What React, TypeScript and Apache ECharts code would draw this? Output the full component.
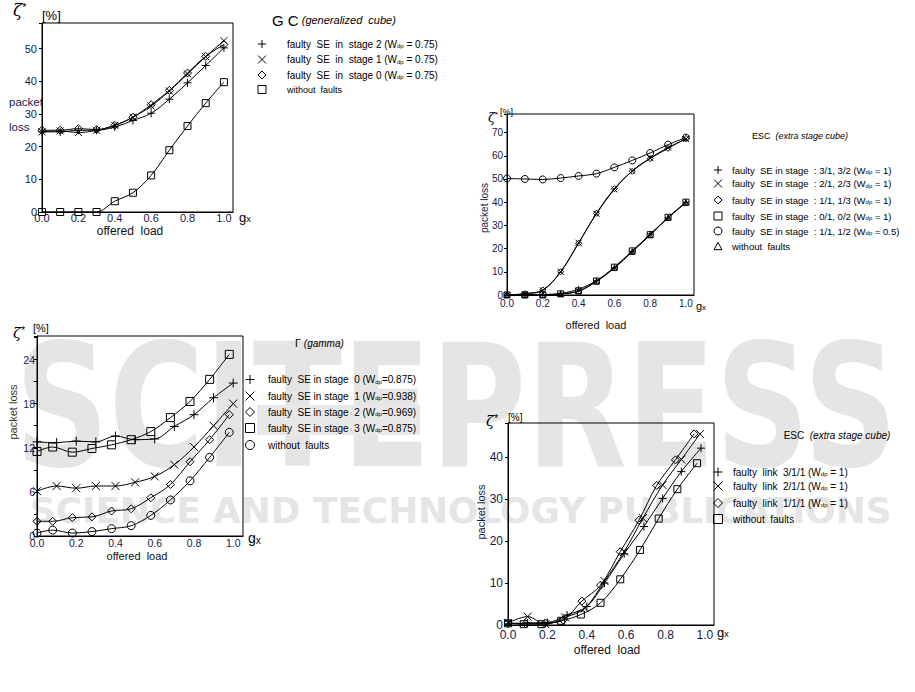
import React, { useEffect, useRef } from "react";
import * as echarts from "echarts";

// ---------- data ----------
const X10 = [0, 0.1, 0.2, 0.3, 0.4, 0.5, 0.6, 0.7, 0.8, 0.9, 1.0];
const loadTicks = [0, 0.2, 0.4, 0.6, 0.8, 1.0];

// GC (generalized cube)
const gcStage2 = [24.5, 24.5, 25, 25, 26, 28, 30.2, 34.5, 39.5, 44.8, 50.2];
const gcStage1 = [24.5, 24.8, 24.3, 25, 26.5, 29, 32.4, 37, 42.2, 47.5, 52.4];
const gcStage0 = [25, 25, 25.5, 25.2, 26.5, 29, 32.8, 37.2, 42.5, 47.6, 51.2];
const gcNoFault = [0, 0, 0, 0, 3.3, 5.9, 11.2, 18.9, 26.3, 33.3, 39.7];

// ESC (extra stage cube), faulty SEs
const esStage3 = [0, 0, 0.2, 0.7, 2.5, 6.2, 11.8, 18.8, 26.3, 33.2, 40];
const esStage2 = [0, 0.5, 2, 10, 22.5, 35, 45.5, 53.5, 59, 63.5, 67.2];
const esStage1 = [0, 0.6, 2.2, 10, 22.3, 35.2, 45.8, 53.3, 58.8, 63.2, 67.5];
const esStage0 = [0, 0, 0, 0.5, 1.8, 6, 12, 19, 26, 33.5, 40];
const esHalf = [50.2, 50, 49.8, 50.4, 51.3, 52.3, 55, 58, 61.2, 64.8, 67.8];
const esNoFault = [0, 0, 0, 0.4, 1.6, 5.8, 11.6, 18.6, 25.8, 33.3, 39.8];

// Gamma
const gmX = [0, 0.08, 0.18, 0.28, 0.38, 0.48, 0.58, 0.68, 0.78, 0.88, 0.98];
const gmStage0 = [12.8, 12.7, 12.9, 12.8, 13.6, 13.1, 13.2, 14.9, 16.5, 18.8, 20.8];
const gmStage1 = [6.1, 6.8, 6.5, 6.8, 6.8, 7.3, 8.1, 9.7, 12.1, 15.0, 18.0];
const gmStage2 = [2.0, 2.0, 2.5, 2.6, 3.4, 3.7, 5.2, 7.0, 10.1, 13.1, 16.5];
const gmStage3 = [11.5, 12.1, 11.4, 11.9, 12.4, 13.1, 14.2, 16.1, 18.3, 21.3, 24.7];
const gmNoFault = [0.4, 0.8, 0.4, 0.6, 1.0, 1.4, 2.8, 4.9, 7.5, 10.7, 14.1];

// ESC (extra stage cube), faulty links
const elLink3X = [0, 0.1, 0.2, 0.3, 0.4, 0.49, 0.59, 0.69, 0.785, 0.88, 0.98];
const elLink3 = [0.3, 0.5, 0.6, 2.4, 4.4, 10, 17, 23.5, 30.2, 36.6, 42.2];
const elLink2X = [0, 0.1, 0.19, 0.29, 0.39, 0.49, 0.59, 0.685, 0.785, 0.88, 0.975];
const elLink2 = [0.5, 2.0, 0.2, 1.8, 4.0, 10.5, 17.5, 25.5, 33.4, 39.5, 45.6];
const elLink1X = [0, 0.09, 0.19, 0.28, 0.375, 0.47, 0.57, 0.665, 0.755, 0.85, 0.945];
const elLink1 = [0.5, 0.3, 0.5, 1.2, 5.7, 9.5, 17.5, 25, 33.3, 39.4, 45.6];
const elNoFaultX = [0, 0.08, 0.17, 0.27, 0.37, 0.47, 0.57, 0.67, 0.765, 0.86, 0.96];
const elNoFault = [0.4, 0.2, 0.2, 1.0, 2.5, 5.3, 10.9, 17.9, 25.4, 32.4, 38.6];

// legend texts
const gcLegend = [
  "faulty  SE  in  stage 2 (W{s|dp} = 0.75)",
  "faulty  SE  in  stage 1 (W{s|dp} = 0.75)",
  "faulty  SE  in  stage 0 (W{s|dp} = 0.75)",
  "{w|without  faults}",
];
const esLegend = [
  "faulty  SE in stage  : 3/1, 3/2 (W{s|dp} = 1)",
  "faulty  SE in stage  : 2/1, 2/3 (W{s|dp} = 1)",
  "faulty  SE in stage  : 1/1, 1/3 (W{s|dp} = 1)",
  "faulty  SE in stage  : 0/1, 0/2 (W{s|dp} = 1)",
  "faulty  SE in stage  : 1/1, 1/2 (W{s|dp} = 0.5)",
  "without  faults",
];
const gmLegend = [
  "faulty  SE in stage  0 (W{s|dp}=0.875)",
  "faulty  SE in stage  1 (W{s|dp}=0.938)",
  "faulty  SE in stage  2 (W{s|dp}=0.969)",
  "faulty  SE in stage  3 (W{s|dp}=0.875)",
  "without  faults",
];
const elLegend = [
  "faulty  link  3/1/1 (W{s|dp} = 1)",
  "faulty  link  2/1/1 (W{s|dp} = 1)",
  "faulty  link  1/1/1 (W{s|dp} = 1)",
  "without  faults",
];

// ---------- helpers ----------
const FONT = '"Liberation Sans", Arial, sans-serif';
const SERIF = '"DejaVu Serif", "Liberation Serif", serif';
const NAVY = "#181848";

const SYM: Record<string, string> = {
  plus: "path://M5 0L5 10M0 5L10 5",
  cross: "path://M0 0L10 10M10 0L0 10",
  diamond: "diamond",
  square: "rect",
  circle: "circle",
  triangle: "triangle",
};

function pairs(xs: number[], ys: number[]) {
  return xs.map((x, i) => [x, ys[i]]);
}

function ser(g: number, xs: number[], ys: number[], kind: string, size: number) {
  return {
    type: "line",
    xAxisIndex: g,
    yAxisIndex: g,
    data: pairs(xs, ys),
    smooth: 0.35,
    symbol: SYM[kind],
    symbolSize: size,
    showSymbol: true,
    silent: true,
    lineStyle: { color: "#000", width: 1 },
    itemStyle: { color: "rgba(0,0,0,0)", borderColor: "#000", borderWidth: 1 },
    z: 3,
  };
}

function xFmt(v: number) {
  const hit = loadTicks.find((t) => Math.abs(t - v) < 1e-6);
  return hit === undefined ? "" : hit.toFixed(1);
}

function xAxis(g: number, max: number, size: number, margin: number) {
  return {
    type: "value",
    gridIndex: g,
    min: 0,
    max,
    interval: 0.2,
    axisLine: { show: true, onZero: false, lineStyle: { color: "#000", width: 1 } },
    axisTick: { show: false },
    splitLine: { show: false },
    axisLabel: { formatter: xFmt, color: NAVY, fontSize: size, fontFamily: FONT, margin },
  };
}

function yAxis(g: number, max: number, interval: number, every: number, size: number, margin: number) {
  return {
    type: "value",
    gridIndex: g,
    min: 0,
    max,
    interval,
    axisLine: { show: true, onZero: false, lineStyle: { color: "#000", width: 1 } },
    axisTick: { show: true, length: 3, lineStyle: { color: "#000" } },
    splitLine: { show: false },
    axisLabel: {
      formatter: (v: number) => (Math.abs(v / every - Math.round(v / every)) < 1e-6 ? String(Math.round(v)) : ""),
      color: NAVY,
      fontSize: size,
      fontFamily: FONT,
      margin,
    },
  };
}

function T(x: number, y: number, text: string, size: number, o: any = {}) {
  return {
    type: "text",
    x,
    y,
    rotation: o.rotation || 0,
    z: o.z === undefined ? 5 : o.z,
    silent: true,
    scaleX: o.scaleX || 1,
    style: {
      text,
      fontFamily: o.family || FONT,
      fontSize: size,
      fontStyle: o.italic ? "italic" : "normal",
      fontWeight: o.weight || "normal",
      fill: o.color || "#000",
      textAlign: o.align || "left",
      textVerticalAlign: o.valign || "middle",
      rich: o.rich,
    },
  };
}

function legendSymbol(kind: string, cx: number, cy: number, s: number) {
  const h = s / 2;
  const st = { stroke: "#000", lineWidth: 1, fill: "none" };
  const base = { silent: true, z: 5 };
  switch (kind) {
    case "plus":
      return [
        { type: "line", ...base, shape: { x1: cx - h, y1: cy, x2: cx + h, y2: cy }, style: st },
        { type: "line", ...base, shape: { x1: cx, y1: cy - h, x2: cx, y2: cy + h }, style: st },
      ];
    case "cross":
      return [
        { type: "line", ...base, shape: { x1: cx - h, y1: cy - h, x2: cx + h, y2: cy + h }, style: st },
        { type: "line", ...base, shape: { x1: cx + h, y1: cy - h, x2: cx - h, y2: cy + h }, style: st },
      ];
    case "diamond":
      return [{ type: "polygon", ...base, shape: { points: [[cx, cy - h], [cx + h, cy], [cx, cy + h], [cx - h, cy]] }, style: st }];
    case "square":
      return [{ type: "rect", ...base, shape: { x: cx - h, y: cy - h, width: s, height: s }, style: st }];
    case "circle":
      return [{ type: "circle", ...base, shape: { cx, cy, r: h }, style: st }];
    default:
      return [{ type: "polygon", ...base, shape: { points: [[cx, cy - h], [cx + h, cy + h * 0.8], [cx - h, cy + h * 0.8]] }, style: st }];
  }
}

function legend(kinds: string[], texts: string[], sx: number, tx: number, ys: number[], size: number, symSize: number) {
  const rich = {
    s: { fontFamily: FONT, fontSize: Math.max(5, Math.round(size * 0.6)), fill: "#000", verticalAlign: "bottom" },
    w: { fontFamily: FONT, fontSize: size - 1, fill: "#000" },
  };
  const out: any[] = [];
  kinds.forEach((k, i) => {
    out.push(...legendSymbol(k, sx, ys[i], symSize));
    out.push(T(tx, ys[i], texts[i], size, { rich }));
  });
  return out;
}

function zeta(x: number, y: number, zs: number, bx: number, by: number, bs: number) {
  return [
    T(x, y, "{z|ζ}{a|*}", zs, {
      rich: {
        z: { fontFamily: SERIF, fontSize: zs, fontStyle: "italic", fill: "#000" },
        a: { fontFamily: FONT, fontSize: Math.round(zs * 0.65), fill: "#000", verticalAlign: "top" },
      },
    }),
    T(bx, by, "[%]", bs),
  ];
}

function gx(x: number, y: number, s: number) {
  return T(x, y, "{g|g}{x|x}", s, {
    rich: {
      g: { fontFamily: FONT, fontSize: s, fill: "#000" },
      x: { fontFamily: FONT, fontSize: Math.round(s * 0.7), fill: "#000", verticalAlign: "bottom" },
    },
  });
}

function measure(text: string, font: string) {
  const c = document.createElement("canvas").getContext("2d");
  if (!c) return text.length * 100;
  c.font = font;
  return c.measureText(text).width;
}

function buildOption() {
  const wmBigSize = 171;
  const wmBigW = measure("SCITEPRESS", `bold ${wmBigSize}px "DejaVu Sans"`);
  const wmSmallSize = 36;
  const wmSmallText = "SCIENCE AND TECHNOLOGY PUBLICATIONS";
  const wmSmallW = measure(wmSmallText, `bold ${wmSmallSize}px "DejaVu Sans"`);
  const WM = "#e5e5e5";

  const graphics: any[] = [
    // watermark
    T(15, 407, "SCITEPRESS", wmBigSize, { family: '"DejaVu Sans"', weight: "bold", color: WM, z: -10, scaleX: 882 / wmBigW }),
    T(30, 510, wmSmallText, wmSmallSize, { family: '"DejaVu Sans"', weight: "bold", color: WM, z: -10, scaleX: 862 / wmSmallW }),
    // gamma legend highlight
    { type: "rect", silent: true, z: -5, shape: { x: 257, y: 405, width: 163, height: 30 }, style: { fill: "#e8e8e8" } },

    // GC chart labels
    ...zeta(13, 10, 17, 42, 15, 13),
    T(9, 102, "packet", 11.5, { color: NAVY }),
    T(9, 127, "loss", 11.5, { color: NAVY }),
    T(130, 231, "offered  load", 12, { align: "center", color: "#111" }),
    gx(239, 217, 13),
    T(272, 20, "{g|G C} {i|(generalized  cube)}", 11, {
      rich: {
        g: { fontFamily: FONT, fontSize: 15, fill: "#000" },
        i: { fontFamily: FONT, fontSize: 11, fontStyle: "italic", fill: "#000" },
      },
    }),
    ...legend(["plus", "cross", "diamond", "square"], gcLegend, 262, 287, [44, 59.5, 75, 89.5], 10, 8),

    // ESC top chart labels
    ...zeta(488, 117, 13, 500, 112, 9),
    T(484, 208, "packet loss", 10, { align: "center", color: NAVY, rotation: Math.PI / 2 }),
    T(596, 325, "offered  load", 11, { align: "center", color: "#111" }),
    gx(696, 306, 11),
    T(800, 136, "{n|ESC}  {i|(extra stage cube)}", 9, {
      align: "center",
      rich: {
        n: { fontFamily: FONT, fontSize: 9, fill: "#000" },
        i: { fontFamily: FONT, fontSize: 9, fontStyle: "italic", fill: "#000" },
      },
    }),
    ...legend(["plus", "cross", "diamond", "square", "circle", "triangle"], esLegend, 718, 732, [170, 183.5, 200, 216, 231, 246.5], 9.5, 8),

    // Gamma chart labels
    ...zeta(13, 333, 15, 33, 328, 11),
    T(13, 412, "packet loss", 11, { align: "center", color: "#3c3418", rotation: Math.PI / 2 }),
    T(137, 556, "offered  load", 11, { align: "center", color: "#111" }),
    gx(248, 538, 14),
    T(295, 343, "{g|Γ} {i|(gamma)}", 10, {
      rich: {
        g: { fontFamily: FONT, fontSize: 11, fill: "#000" },
        i: { fontFamily: FONT, fontSize: 10, fontStyle: "italic", fill: "#000" },
      },
    }),
    ...legend(["plus", "cross", "diamond", "square", "circle"], gmLegend, 250, 268, [379.5, 396, 412, 428, 445], 10, 9),

    // ESC bottom chart labels
    ...zeta(486, 421, 15, 508, 417, 10),
    T(481, 512, "packet loss", 11, { align: "center", color: NAVY, rotation: Math.PI / 2 }),
    T(607, 650, "offered  load", 12, { align: "center", color: "#111" }),
    gx(717, 632, 13),
    T(837, 435, "{n|ESC}  {i|(extra stage cube)}", 10, {
      align: "center",
      rich: {
        n: { fontFamily: FONT, fontSize: 10, fill: "#000" },
        i: { fontFamily: FONT, fontSize: 10, fontStyle: "italic", fill: "#000" },
      },
    }),
    ...legend(["plus", "cross", "diamond", "square"], elLegend, 718, 733, [472, 486, 503, 519], 10, 9),
  ];

  const gridBase = { show: true, borderColor: "#000", borderWidth: 1, backgroundColor: "transparent", outerBoundsMode: "none", containLabel: false };

  return {
    animation: false,
    backgroundColor: "#fff",
    grid: [
      { ...gridBase, left: 42, top: 23, width: 191, height: 189 },
      { ...gridBase, left: 507, top: 114, width: 187, height: 181 },
      { ...gridBase, left: 37, top: 336, width: 206, height: 200 },
      { ...gridBase, left: 508, top: 423, width: 206, height: 202 },
    ],
    xAxis: [
      xAxis(0, 1.05, 11, 0),
      xAxis(1, 1.045, 10, 3),
      xAxis(2, 1.05, 10.5, 1),
      xAxis(3, 1.046, 12, 4),
    ],
    yAxis: [
      yAxis(0, 57.8, 10, 10, 11, 5),
      yAxis(1, 78, 10, 10, 10, 4),
      yAxis(2, 27.2, 3, 6, 10.5, 2),
      yAxis(3, 48.2, 10, 10, 12, 5),
    ],
    graphic: { elements: graphics },
    series: [
      ser(0, X10, gcStage2, "plus", 8),
      ser(0, X10, gcStage1, "cross", 7),
      ser(0, X10, gcStage0, "diamond", 8),
      ser(0, X10, gcNoFault, "square", 7),

      ser(1, X10, esStage3, "plus", 6),
      ser(1, X10, esStage2, "cross", 6),
      ser(1, X10, esStage1, "diamond", 6),
      ser(1, X10, esStage0, "square", 6),
      ser(1, X10, esHalf, "circle", 7),
      ser(1, X10, esNoFault, "triangle", 5),

      ser(2, X10, gmStage0, "plus", 9),
      ser(2, X10, gmStage1, "cross", 8),
      ser(2, gmX, gmStage2, "diamond", 8),
      ser(2, gmX, gmStage3, "square", 8),
      ser(2, gmX, gmNoFault, "circle", 8),

      ser(3, elLink3X, elLink3, "plus", 8),
      ser(3, elLink2X, elLink2, "cross", 8),
      ser(3, elLink1X, elLink1, "diamond", 8),
      ser(3, elNoFaultX, elNoFault, "square", 7),
    ],
  };
}

export default function App() {
  const ref = useRef<HTMLDivElement>(null);
  useEffect(() => {
    if (!ref.current) return;
    const chart = echarts.init(ref.current, null, { renderer: "svg" });
    chart.setOption(buildOption() as any);
    return () => chart.dispose();
  }, []);
  return (
    <div
      ref={ref}
      style={{ position: "fixed", left: 0, top: 0, width: 915, height: 692, background: "#fff" }}
    />
  );
}
